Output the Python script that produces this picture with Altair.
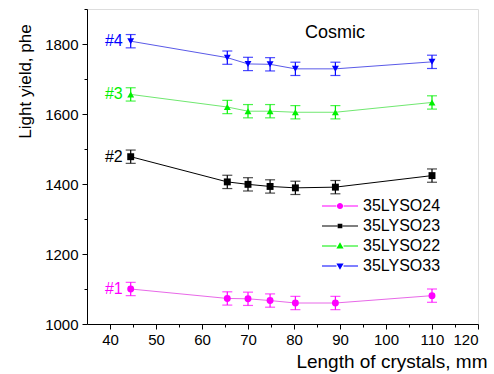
import altair as alt
import pandas as pd

# Crystal lengths (mm) at which the light yield was measured
lengths = [44.5, 65.5, 70.0, 74.8, 80.3, 89.0, 110.0]

series_names = ["35LYSO24", "35LYSO23", "35LYSO22", "35LYSO33"]
tags = ["#1", "#2", "#3", "#4"]

# Light yield (phe) per sample
yield_24 = [1100, 1073, 1072, 1067, 1060, 1060, 1081]
yield_23 = [1478, 1406, 1399, 1393, 1389, 1391, 1424]
yield_22 = [1656, 1620, 1608, 1608, 1605, 1605, 1633]
yield_33 = [1808, 1761, 1743, 1742, 1729, 1729, 1749]

# Uncertainties (phe)
err_24 = [19, 19, 19, 19, 19, 19, 19]
err_23 = [19, 19, 19, 19, 19, 19, 19]
err_22 = [19, 19, 19, 19, 19, 19, 19]
err_33 = [19, 19, 19, 19, 19, 19, 19]

marker_colors = ["#ff00ff", "#000000", "#00f000", "#0000ff"]
line_colors = ["#e868e8", "#000000", "#70e870", "#5a5ae8"]
marker_shapes = ["circle", "square", "triangle-up", "triangle-down"]

# Legend glyphs: a short line with the marker in the middle
legend_paths = [
    "M-1,-0.03H-0.2V0.03H-1Z M0.2,-0.03H1V0.03H0.2Z "
    "M0.17,0A0.17,0.17 0 1,1 -0.17,0A0.17,0.17 0 1,1 0.17,0Z",
    "M-1,-0.03H-0.14V0.03H-1Z M0.14,-0.03H1V0.03H0.14Z "
    "M-0.13,-0.13H0.13V0.13H-0.13Z",
    "M-1,-0.03H-0.2V0.03H-1Z M0.2,-0.03H1V0.03H0.2Z "
    "M0,-0.21L0.2,0.14H-0.2Z",
    "M-1,-0.03H-0.2V0.03H-1Z M0.2,-0.03H1V0.03H0.2Z "
    "M0,0.21L0.2,-0.14H-0.2Z",
]

all_yields = [yield_24, yield_23, yield_22, yield_33]
all_errs = [err_24, err_23, err_22, err_33]

rows = []
for name, ys, es in zip(series_names, all_yields, all_errs):
    for x, y, e in zip(lengths, ys, es):
        rows.append({"series": name, "length": x, "ly": y, "lo": y - e, "hi": y + e})
df = pd.DataFrame(rows)

tag_df = pd.DataFrame({
    "tag": tags,
    "length": [lengths[0]] * 4,
    "ly": [ys[0] for ys in all_yields],
    "col": marker_colors,
})

FONT = "Liberation Sans"

x_scale = alt.Scale(domain=[35, 120], nice=False, zero=False)
y_scale = alt.Scale(domain=[1000, 1900], nice=False, zero=False)

x_major = alt.Axis(
    values=list(range(40, 121, 10)), title="Length of crystals, mm",
    tickSize=5, labelPadding=3, labelFontSize=15, labelFont=FONT, labelColor="#000",
    titleFont=FONT, titleFontSize=19, titleFontWeight="normal", titleColor="#000",
    titleX=400, titleY=37, titleAlign="right", titleBaseline="middle",
    domainColor="#000", tickColor="#000", grid=False, orient="bottom",
)
x_minor = alt.Axis(
    values=[45, 55, 65, 75, 85, 95, 105, 115], labels=False, domain=False,
    tickSize=3, tickColor="#000", title=None, grid=False, orient="bottom",
)
y_major = alt.Axis(
    values=[1000, 1200, 1400, 1600, 1800], format="d", title="Light yield, phe",
    tickSize=5, labelPadding=4, labelFontSize=15, labelFont=FONT, labelColor="#000",
    titleFont=FONT, titleFontSize=17, titleFontWeight="normal", titleColor="#000",
    titleX=-62, titleY=72, titleAlign="center", titleBaseline="middle", titleAngle=-90,
    domainColor="#000", tickColor="#000", grid=False, orient="left",
)
y_minor = alt.Axis(
    values=[1100, 1300, 1500, 1700, 1900], labels=False, domain=False,
    tickSize=3, tickColor="#000", title=None, grid=False, orient="left",
)

line_scale = alt.Scale(domain=series_names, range=line_colors)
marker_scale = alt.Scale(domain=series_names, range=marker_colors)

base = alt.Chart(df)

lines = base.mark_line(strokeWidth=1).encode(
    x=alt.X("length:Q", scale=x_scale, axis=x_major),
    y=alt.Y("ly:Q", scale=y_scale, axis=y_major),
    color=alt.Color("series:N", scale=line_scale, legend=None),
)

bars = base.mark_rule(strokeWidth=1.2).encode(
    x=alt.X("length:Q", scale=x_scale, axis=None),
    y=alt.Y("lo:Q", scale=y_scale, axis=None),
    y2="hi:Q",
    color=alt.Color("series:N", scale=marker_scale, legend=None),
)

caps = base.transform_fold(["lo", "hi"], as_=["end", "val"]).mark_tick(
    orient="horizontal", size=10, thickness=1.2
).encode(
    x=alt.X("length:Q", scale=x_scale, axis=None),
    y=alt.Y("val:Q", scale=y_scale, axis=None),
    color=alt.Color("series:N", scale=marker_scale, legend=None),
)

points = base.mark_point(filled=True, opacity=1, size=48).encode(
    x=alt.X("length:Q", scale=x_scale, axis=x_minor),
    y=alt.Y("ly:Q", scale=y_scale, axis=y_minor),
    color=alt.Color("series:N", scale=marker_scale, legend=None),
    shape=alt.Shape("series:N", scale=alt.Scale(domain=series_names, range=marker_shapes), legend=None),
)

legend_opts = dict(
    orient="none", legendX=235, legendY=188, title=None,
    symbolSize=1296, symbolStrokeWidth=0, clipHeight=18,
    labelFont=FONT, labelFontSize=16, labelColor="#000", labelOffset=5,
    rowPadding=2, padding=0,
)
legend_layer = base.transform_filter("datum.length > 1000").mark_point(
    filled=True, opacity=1
).encode(
    x=alt.X("length:Q", scale=x_scale, axis=None),
    y=alt.Y("ly:Q", scale=y_scale, axis=None),
    color=alt.Color("series:N", scale=marker_scale, legend=alt.Legend(**legend_opts)),
    shape=alt.Shape("series:N", scale=alt.Scale(domain=series_names, range=legend_paths),
                    legend=alt.Legend(**legend_opts)),
)

tag_text = alt.Chart(tag_df).mark_text(
    align="right", baseline="middle", dx=-8, fontSize=16, font=FONT
).encode(
    x=alt.X("length:Q", scale=x_scale, axis=None),
    y=alt.Y("ly:Q", scale=y_scale, axis=None),
    text="tag:N",
    color=alt.Color("col:N", scale=None),
)

cosmic = alt.Chart(pd.DataFrame({"t": ["Cosmic"]})).mark_text(
    align="center", baseline="middle", fontSize=18, font=FONT, color="#000"
).encode(x=alt.value(248), y=alt.value(24), text="t:N")

chart = alt.layer(
    lines, bars, caps, points, legend_layer, tag_text, cosmic
).resolve_scale(
    color="independent", shape="independent"
).resolve_axis(
    x="independent", y="independent"
).properties(
    width=391, height=315,
    autosize=alt.AutoSizeParams(type="none"),
    padding={"left": 87, "top": 9, "right": 16, "bottom": 50},
).configure_view(stroke=None).configure(background="white")

chart.save("out.html", embed_options={"renderer": "svg", "actions": False})
